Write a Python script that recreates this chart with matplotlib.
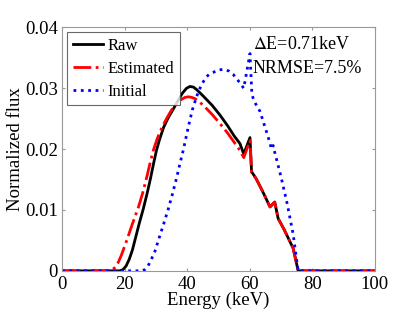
import matplotlib
matplotlib.use("Agg")
import matplotlib.pyplot as plt

plt.rcParams["font.family"] = ["Liberation Serif", "DejaVu Serif"]
plt.rcParams["mathtext.fontset"] = "stix"

# Raw spectrum
raw_energy = [0, 18.5, 19.5, 20.5, 21.5, 22.5, 23.3, 24.7, 26, 27.2, 28.3, 29.3, 30.2,
              31.2, 32.5, 34, 35.6, 37, 38.5, 39.8, 40.9, 42, 43, 45, 48, 50.5, 53, 55,
              56.9, 58.1, 60.1, 60.6, 62, 64, 66.5, 68.0, 69.1, 71, 73.9, 75.5, 100]
raw_flux = [0, 0, 0.0002, 0.0008, 0.0019, 0.0034, 0.0050, 0.0078, 0.0102, 0.0127, 0.0152,
            0.0177, 0.0198, 0.0216, 0.0236, 0.0252, 0.0266, 0.0279, 0.0292, 0.0300,
            0.0303, 0.0302, 0.0298, 0.0288, 0.0272, 0.0256, 0.0238, 0.0222, 0.0209,
            0.0192, 0.0219, 0.0163, 0.0152, 0.0132, 0.0105, 0.0113, 0.0086, 0.0068,
            0.0037, 0, 0]

# Estimated spectrum
est_energy = [0, 15, 16, 17, 18, 19, 20, 20.7, 22.5, 24.4, 25.8, 27.1, 28.2, 29.2, 30.5,
              32, 33.5, 35, 36.5, 38, 39.3, 40.4, 41.5, 42.5, 45, 48, 50.5, 53, 56.9,
              58.1, 60.1, 60.6, 62, 64, 66.5, 68.0, 69.1, 71, 73.9, 75.5, 100]
est_flux = [0, 0, 0.0001, 0.0006, 0.0014, 0.0026, 0.0040, 0.0050, 0.0077, 0.0104, 0.0128,
            0.0154, 0.0178, 0.0198, 0.0218, 0.0236, 0.0251, 0.0264, 0.0274, 0.0281,
            0.0285, 0.0286, 0.0285, 0.0283, 0.0273, 0.0257, 0.0242, 0.0226, 0.0198,
            0.0186, 0.0214, 0.0162, 0.0152, 0.0132, 0.0105, 0.0113, 0.0086, 0.0068,
            0.0037, 0, 0]

# Initial spectrum
init_energy = [0, 25.5, 26.5, 27.5, 28.5, 29.7, 30.8, 32.5, 34, 35.3, 36.6, 37.7, 38.8,
               40.4, 41.7, 43.0, 44.1, 45.2, 46.2, 47.3, 48.3, 49.9, 51.5, 52.5, 53.5,
               54.7, 55.8, 57, 58.1, 60.1, 60.7, 61.5, 63.3, 65.9, 67, 67.5, 68, 70,
               72, 73.9, 75.5, 100]
init_flux = [0, 0, 0.0002, 0.0008, 0.0018, 0.0032, 0.0050, 0.0077, 0.0102, 0.0126,
             0.0152, 0.0176, 0.0199, 0.0237, 0.0265, 0.0286, 0.0300, 0.0311, 0.0319,
             0.0324, 0.0326, 0.0330, 0.0331, 0.0330, 0.0328, 0.0323, 0.0316, 0.0308,
             0.0300, 0.0357, 0.0290, 0.0278, 0.0262, 0.0220, 0.0200, 0.0206, 0.0195,
             0.0155, 0.0110, 0.0060, 0, 0]

fs = 13.5

fig = plt.figure(figsize=(4.16, 3.19), dpi=100)
ax = fig.add_axes([0.149, 0.151, 0.752, 0.763])

ax.plot(raw_energy, raw_flux, color="black", lw=2, label="Raw")
ax.plot(est_energy, est_flux, color="red", lw=2, ls="-.", label="Estimated")
ax.plot(init_energy, init_flux, color="blue", lw=2, ls=":", label="Initial")

ax.set_xlim(0, 100)
ax.set_ylim(0, 0.04)
ax.set_xticks([0, 20, 40, 60, 80, 100])
ax.set_yticks([0, 0.01, 0.02, 0.03, 0.04])
ax.set_yticklabels(["0", "0.01", "0.02", "0.03", "0.04"])
ax.tick_params(direction="in", length=2, color="#999999", labelsize=fs,
               top=True, right=True)
ax.tick_params(axis="x", pad=4)
ax.tick_params(axis="y", pad=3)
for sp in ax.spines.values():
    sp.set_color("#999999")

ax.set_xlabel("Energy (keV)", fontsize=fs, labelpad=-1)
ax.set_ylabel("Normalized flux", fontsize=fs, labelpad=1)

ax.text(61, 0.0372, r"$\mathit{\Delta}$E=0.71keV", fontsize=13, va="center")
ax.text(61, 0.0333, "NRMSE=7.5%", fontsize=13, va="center")

leg = ax.legend(loc="upper left", fontsize=12, fancybox=False, handlelength=1.8,
                borderaxespad=0.3, labelspacing=0.4, handletextpad=0.3,
                borderpad=0.35)
leg.get_frame().set_edgecolor("#444444")
leg.get_frame().set_linewidth(0.8)

fig.savefig("out.png", dpi=100)
